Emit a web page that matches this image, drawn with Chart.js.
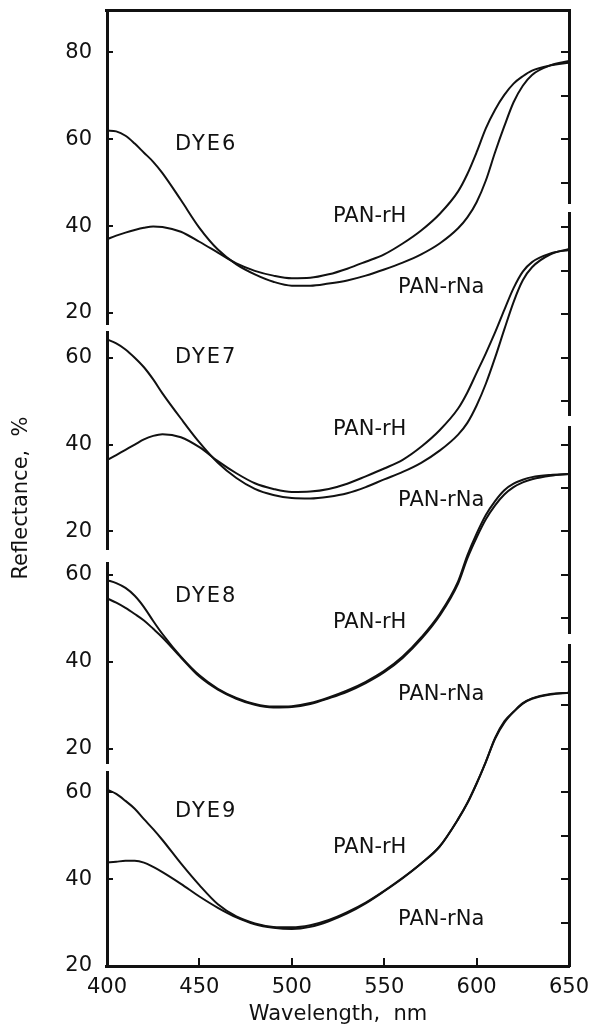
<!DOCTYPE html>
<html>
<head>
<meta charset="utf-8">
<title>Reflectance spectra, DYE6-DYE9 on PAN-rH / PAN-rNa</title>
<script src="https://cdn.jsdelivr.net/npm/chart.js@4.4.1/dist/chart.umd.min.js"></script>
<style>
  html, body { margin: 0; padding: 0; background: #fff; }
  #wrap { width: 590px; height: 1036px; }
</style>
</head>
<body>
<div id="wrap"><canvas id="chart" width="590" height="1036"></canvas></div>
<script>
// ===================== DATA =====================
const WAVELENGTH = [400, 405, 410, 415, 420, 425, 430, 440, 450, 460, 470, 480, 490, 500, 510, 520, 530,
                    540, 550, 560, 570, 580, 590, 595, 600, 605, 610, 615, 620, 625, 630, 640, 650];

// DYE6
const DYE6_RNA = [62.0, 61.8, 60.8, 59.0, 56.9, 54.8, 52.2, 46.0, 39.6, 34.6, 31.2, 28.9, 27.2, 26.3, 26.3, 26.8, 27.5,
                  28.6, 30.0, 31.6, 33.5, 36.0, 39.5, 42.0, 45.5, 50.5, 57.0, 63.0, 68.5, 72.3, 74.8, 77.0, 78.0];
const DYE6_RH  = [37.0, 37.8, 38.5, 39.1, 39.6, 39.9, 39.8, 38.7, 36.4, 33.9, 31.4, 29.7, 28.6, 28.0, 28.1, 28.9, 30.2,
                  31.8, 33.5, 36.0, 39.0, 42.8, 48.0, 52.0, 57.0, 62.5, 66.8, 70.2, 72.8, 74.5, 75.8, 77.0, 77.6];
// DYE7
const DYE7_RNA = [64.2, 63.3, 61.9, 60.0, 57.8, 55.0, 51.8, 46.0, 40.5, 35.8, 32.3, 29.8, 28.4, 27.7, 27.6, 28.0, 28.8,
                  30.2, 32.0, 33.7, 35.8, 38.6, 42.3, 45.0, 49.0, 54.0, 60.0, 66.5, 72.8, 77.8, 80.8, 83.8, 85.0];
const DYE7_RH  = [36.4, 37.6, 38.8, 40.0, 41.2, 42.0, 42.4, 41.7, 39.4, 36.2, 33.4, 31.1, 29.8, 29.1, 29.2, 29.8, 31.0,
                  32.7, 34.5, 36.5, 39.5, 43.3, 48.3, 52.0, 56.5, 61.0, 65.8, 71.0, 76.0, 79.8, 82.0, 84.0, 84.8];
// DYE8
const DYE8_RH  = [58.8, 58.1, 57.0, 55.2, 52.6, 49.4, 46.4, 41.2, 36.9, 33.8, 31.7, 30.3, 29.7, 29.8, 30.5, 31.8, 33.4,
                  35.4, 37.9, 41.2, 45.6, 51.0, 58.5, 64.5, 69.5, 73.8, 77.0, 79.5, 81.0, 81.9, 82.5, 83.0, 83.2];
const DYE8_RNA = [54.6, 53.6, 52.4, 51.0, 49.5, 47.6, 45.6, 41.0, 36.6, 33.6, 31.5, 30.1, 29.5, 29.6, 30.3, 31.6, 33.1,
                  35.1, 37.6, 40.9, 45.2, 50.6, 58.0, 63.8, 68.6, 72.8, 76.0, 78.5, 80.2, 81.3, 82.0, 82.8, 83.2];
// DYE9
const DYE9_RH  = [60.6, 59.6, 58.0, 56.2, 53.8, 51.5, 49.0, 43.6, 38.6, 34.2, 31.4, 29.8, 29.0, 28.9, 29.4, 30.6, 32.4,
                  34.6, 37.3, 40.3, 43.6, 47.5, 53.8, 57.5, 62.0, 67.0, 72.5, 76.3, 78.5, 80.5, 81.6, 82.6, 82.9];
const DYE9_RNA = [43.8, 44.0, 44.2, 44.2, 43.8, 42.8, 41.6, 38.9, 36.0, 33.4, 31.2, 29.6, 28.8, 28.5, 29.0, 30.3, 32.1,
                  34.4, 37.2, 40.2, 43.6, 47.5, 53.8, 57.5, 62.0, 67.0, 72.3, 76.0, 78.5, 80.4, 81.5, 82.5, 82.9];

// tick values
const X_TICKS = [400, 450, 500, 550, 600, 650];
const LEFT_TICKS_TOP = [20, 40, 60, 80];
const LEFT_TICKS = [20, 40, 60];
const RIGHT_TICKS_TOP = [50, 60, 70, 80];
const RIGHT_TICKS = [50, 60, 70, 80, 90];
const RIGHT_TICKS_BOTTOM = [30, 40, 50, 60, 70, 80, 90];

// in-plot labels: text, wavelength, reflectance, panel axis
const NOTES = [
  ["DYE6", 436.8, 58.7, "y1"], ["PAN-rH", 522.3, 42.1, "y1"], ["PAN-rNa", 557.5, 25.8, "y1"],
  ["DYE7", 436.8, 60.0, "y2"], ["PAN-rH", 522.3, 43.5, "y2"], ["PAN-rNa", 557.5, 27.1, "y2"],
  ["DYE8", 436.8, 55.0, "y3"], ["PAN-rH", 522.3, 49.0, "y3"], ["PAN-rNa", 557.5, 32.4, "y3"],
  ["DYE9", 436.8, 55.6, "y4"], ["PAN-rH", 522.3, 47.3, "y4"], ["PAN-rNa", 557.5, 30.7, "y4"]
];

// ===================== STYLE =====================
const INK = "#111";
const FONT = { family: "'DejaVu Sans', sans-serif", size: 21 };
Chart.defaults.font.family = FONT.family;
Chart.defaults.color = INK;

// fixed box sizes, no auto padding from labels
function fixSize(w, h) {
  return (s) => {
    if (w !== null) s.width = w;
    if (h !== null) s.height = h;
    s.paddingTop = s.paddingBottom = s.paddingLeft = s.paddingRight = 0;
  };
}

const tickList = (vals) => (s) => { s.ticks = vals.map(v => ({ value: v })); };

// one broken segment of the left axis
function leftAxis(min, max, weight, ticks) {
  return {
    type: "linear", position: "left", stack: "L", stackWeight: weight, min, max,
    afterBuildTicks: tickList(ticks),
    afterFit: fixSize(67, null),
    border: { display: true, width: 3, color: INK },
    grid: { display: true, drawOnChartArea: false, tickLength: -6, tickWidth: 2, tickColor: INK, color: INK, lineWidth: 2 },
    ticks: { padding: 21, color: INK, font: FONT, autoSkip: false }
  };
}

// one broken segment of the right axis (ticks only)
function rightAxis(min, max, weight, ticks) {
  return {
    type: "linear", position: "right", stack: "R", stackWeight: weight, min, max,
    afterBuildTicks: tickList(ticks),
    afterFit: fixSize(21, null),
    border: { display: true, width: 3, color: INK },
    grid: { display: true, drawOnChartArea: false, tickLength: -8, tickWidth: 2, tickColor: INK, color: INK, lineWidth: 2 },
    ticks: { display: false }
  };
}

// empty piece that makes the break between two segments
function gap(position, stack, weight, width) {
  return {
    type: "linear", position, stack, stackWeight: weight, min: 0, max: 1, weight: stack === "T" ? 10 : 0,
    afterFit: fixSize(width, null),
    border: { display: false }, grid: { display: false, drawTicks: false }, ticks: { display: false }
  };
}

function series(label, values, axis) {
  return {
    label,
    data: WAVELENGTH.map((w, i) => ({ x: w, y: values[i] })),
    xAxisID: "x", yAxisID: axis,
    borderColor: INK, borderWidth: 2, pointRadius: 0,
    cubicInterpolationMode: "monotone", fill: false, clip: false
  };
}

// ------------------ labels inside the plot ------------------
const notePlugin = {
  id: "notes",
  afterDatasetsDraw(chart) {
    const ctx = chart.ctx;
    const xs = chart.scales.x;
    ctx.save();
    ctx.fillStyle = INK;
    ctx.font = FONT.size + "px " + FONT.family;
    ctx.textAlign = "left";
    ctx.textBaseline = "middle";
    NOTES.forEach(([text, wl, val, axis]) => {
      ctx.letterSpacing = text.startsWith("DYE") ? "2px" : "0px";
      ctx.fillText(text, xs.getPixelForValue(wl), chart.scales[axis].getPixelForValue(val));
    });
    ctx.restore();
  }
};

// ------------------ chart ------------------
// note: left-side stacks are laid out in reverse order of definition,
// so the bottom panel is listed first there.
new Chart(document.getElementById("chart").getContext("2d"), {
  type: "line",
  data: {
    datasets: [
      series("DYE6 PAN-rH", DYE6_RH, "y1"), series("DYE6 PAN-rNa", DYE6_RNA, "y1"),
      series("DYE7 PAN-rH", DYE7_RH, "y2"), series("DYE7 PAN-rNa", DYE7_RNA, "y2"),
      series("DYE8 PAN-rH", DYE8_RH, "y3"), series("DYE8 PAN-rNa", DYE8_RNA, "y3"),
      series("DYE9 PAN-rH", DYE9_RH, "y4"), series("DYE9 PAN-rNa", DYE9_RNA, "y4")
    ]
  },
  options: {
    responsive: false,
    animation: false,
    layout: { padding: 0 },
    plugins: { legend: { display: false }, tooltip: { enabled: false } },
    scales: {
      x: {
        type: "linear", position: "bottom", min: 400, max: 650,
        afterBuildTicks: tickList(X_TICKS),
        afterFit: fixSize(null, 70),
        border: { display: true, width: 3, color: INK },
        grid: { display: true, drawOnChartArea: false, tickLength: -8, tickWidth: 2, tickColor: INK, color: INK, lineWidth: 2 },
        ticks: { padding: 17, color: INK, font: FONT, maxRotation: 0, autoSkip: false },
        title: { display: true, text: "Wavelength,  nm", color: INK, font: FONT, padding: { top: 0, bottom: 9 } }
      },
      xTop: {
        type: "linear", axis: "x", position: "top", min: 400, max: 650,
        afterFit: fixSize(null, 10),
        border: { display: true, width: 3, color: INK },
        grid: { display: false, drawTicks: false }, ticks: { display: false }
      },
      // y title, pushed a little down like the original
      yTitle: {
        type: "linear", position: "left", stack: "T", stackWeight: 936, weight: 10, min: 0, max: 1,
        afterFit: fixSize(40, null),
        border: { display: false }, grid: { display: false, drawTicks: false }, ticks: { display: false },
        title: { display: true, text: "Reflectance,  %", color: INK, font: FONT, padding: { top: 9, bottom: 0 } }
      },
      yTitlePad: gap("left", "T", 20, 40),
      // left axis, four panels with breaks (bottom first)
      y4: leftAxis(20, 64.65, 194, LEFT_TICKS),
      gL3: gap("left", "L", 9, 0),
      y3: leftAxis(16.71, 62.74, 200, LEFT_TICKS),
      gL2: gap("left", "L", 14, 0),
      y2: leftAxis(15.97, 65.91, 217, LEFT_TICKS),
      gL1: gap("left", "L", 8, 0),
      y1: leftAxis(17.47, 89.74, 314, LEFT_TICKS_TOP),
      // right axis, breaks at other places (top first)
      r1: rightAxis(45.32, 89.74, 193, RIGHT_TICKS_TOP),
      gR1: gap("right", "R", 10, 0),
      r2: rightAxis(46.81, 93.30, 202, RIGHT_TICKS),
      gR2: gap("right", "R", 12, 0),
      r3: rightAxis(46.63, 94.04, 206, RIGHT_TICKS),
      gR3: gap("right", "R", 12, 0),
      r4: rightAxis(20, 93.88, 321, RIGHT_TICKS_BOTTOM)
    }
  },
  plugins: [notePlugin]
});
</script>
</body>
</html>
